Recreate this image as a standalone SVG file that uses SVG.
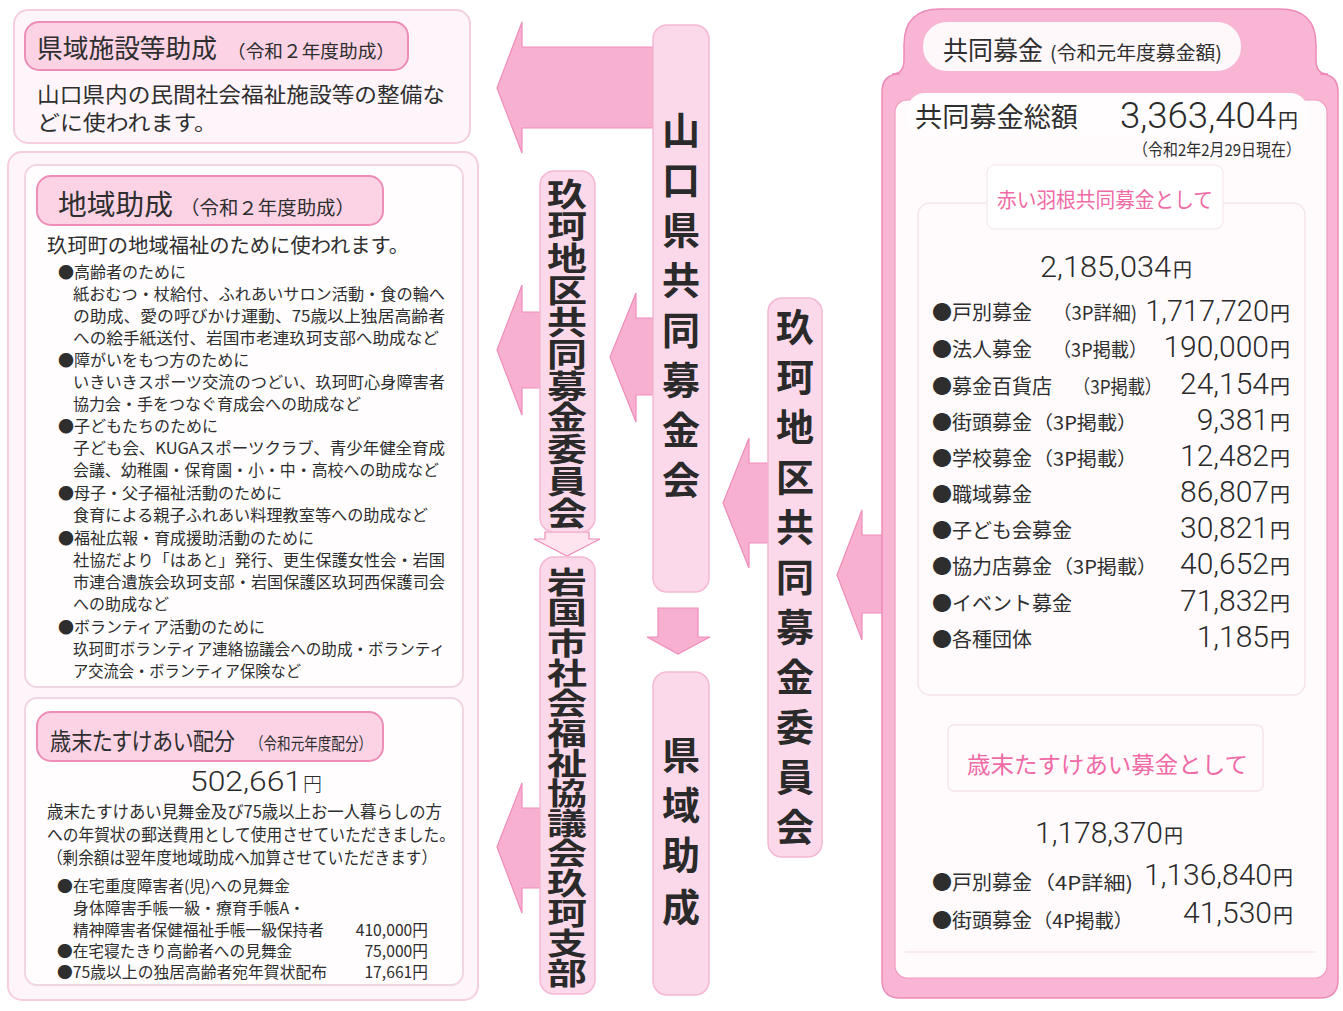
<svg xmlns="http://www.w3.org/2000/svg" width="1343" height="1011" viewBox="0 0 1343 1011">
<style>
.outer{fill:#fdf5f9;stroke:#f5cfe0;stroke-width:2}
.inner{fill:#fffdfe;stroke:#f2d5e2;stroke-width:2}
.tpill{fill:#fbd3e5;stroke:#ee8db7;stroke-width:2}
.vpill{fill:#fcd9ea;stroke:#f5b8d4;stroke-width:1.5}
.arrow{fill:#f8b0d1;stroke:#ef8cb9;stroke-width:1.2}
.arrowl{fill:#fde4ef;stroke:#f08dba;stroke-width:1.2}
.faint{fill:none;stroke:#f4e4ec;stroke-width:1.5}
.jp{font-family:"Noto Sans CJK JP",sans-serif;fill:#2e2e2e}
.palt{font-feature-settings:"palt"}
.num{font-family:Roboto,"Liberation Sans","Noto Sans CJK JP",sans-serif;font-weight:300;fill:#2a2a2a}
.vt{font-family:"Noto Sans CJK JP",sans-serif;font-weight:700;fill:#2a2a2a;text-anchor:middle}
.pink{fill:#f06aa6}
</style>

<g id="connectors">
  <polygon class="arrow" points="653,47 522,47 522,22 497,88 522,153 522,128 653,128"/>
  <polygon class="arrow" points="653,318 636,318 636,293 610,357 636,422 636,395 653,395"/>
  <polygon class="arrow" points="540,312 522,312 522,285 497,350 522,415 522,388 540,388"/>
  <polygon class="arrow" points="540,808 522,808 522,783 497,847 522,913 522,888 540,888"/>
  <polygon class="arrow" points="768,463 749,463 749,438 723,503 749,568 749,543 768,543"/>
  <polygon class="arrow" points="883,535 862,535 862,510 837,575 862,640 862,613 883,613"/>
  <polygon class="arrowl" points="545,532 589,532 589,539 600,539 567,556 534,539 545,539"/>
  <polygon class="arrow" points="658,608 698,608 698,637 710,637 678,654 647,637 658,637"/>
</g>

<g id="node-kenikishisetsu">
  <rect class="outer" x="14" y="10" width="456" height="133" rx="14"/>
  <rect class="tpill" x="25" y="22" width="383" height="48" rx="14"/>
  <text class="jp" x="37" y="58" font-size="26" textLength="180" lengthAdjust="spacingAndGlyphs">県域施設等助成</text>
  <text class="jp" x="227" y="58" font-size="18" textLength="168" lengthAdjust="spacingAndGlyphs">（令和２年度助成）</text>
  <text class="jp" x="37" y="102" font-size="21" textLength="408" lengthAdjust="spacingAndGlyphs">山口県内の民間社会福祉施設等の整備な</text>
  <text class="jp" x="37" y="130" font-size="21" textLength="180" lengthAdjust="spacingAndGlyphs">どに使われます。</text>
</g>

<g id="node-chiiki-frame">
  <rect class="outer" x="8" y="152" width="470" height="848" rx="14"/>
</g>

<g id="node-chiiki">
  <rect class="inner" x="25" y="165" width="438" height="522" rx="12"/>
  <rect class="tpill" x="37" y="176" width="346" height="49" rx="14"/>
  <text class="jp" x="58" y="215" font-size="28" textLength="115" lengthAdjust="spacingAndGlyphs">地域助成</text>
  <text class="jp" x="180" y="215" font-size="19" textLength="175" lengthAdjust="spacingAndGlyphs">（令和２年度助成）</text>
  <text class="jp" x="47" y="253" font-size="20.3">玖珂町の地域福祉のために使われます。</text>
  <g font-size="16">
    <text class="jp" x="58" y="278">●高齢者のために</text>
    <text class="jp" x="73" y="300" textLength="372" lengthAdjust="spacingAndGlyphs">紙おむつ・杖給付、ふれあいサロン活動・食の輪へ</text>
    <text class="jp" x="73" y="322" textLength="372" lengthAdjust="spacingAndGlyphs">の助成、愛の呼びかけ運動、75歳以上独居高齢者</text>
    <text class="jp" x="73" y="344" textLength="366" lengthAdjust="spacingAndGlyphs">への絵手紙送付、岩国市老連玖珂支部へ助成など</text>
    <text class="jp" x="58" y="366">●障がいをもつ方のために</text>
    <text class="jp" x="73" y="388" textLength="372" lengthAdjust="spacingAndGlyphs">いきいきスポーツ交流のつどい、玖珂町心身障害者</text>
    <text class="jp" x="73" y="410">協力会・手をつなぐ育成会への助成など</text>
    <text class="jp" x="58" y="432">●子どもたちのために</text>
    <text class="jp" x="73" y="454" textLength="372" lengthAdjust="spacingAndGlyphs">子ども会、KUGAスポーツクラブ、青少年健全育成</text>
    <text class="jp" x="73" y="476" textLength="366" lengthAdjust="spacingAndGlyphs">会議、幼稚園・保育園・小・中・高校への助成など</text>
    <text class="jp" x="58" y="499">●母子・父子福祉活動のために</text>
    <text class="jp" x="73" y="521" textLength="355" lengthAdjust="spacingAndGlyphs">食育による親子ふれあい料理教室等への助成など</text>
    <text class="jp" x="58" y="544">●福祉広報・育成援助活動のために</text>
    <text class="jp" x="73" y="566" textLength="372" lengthAdjust="spacingAndGlyphs">社協だより「はあと」発行、更生保護女性会・岩国</text>
    <text class="jp" x="73" y="588" textLength="372" lengthAdjust="spacingAndGlyphs">市連合遺族会玖珂支部・岩国保護区玖珂西保護司会</text>
    <text class="jp" x="73" y="610">への助成など</text>
    <text class="jp" x="58" y="633">●ボランティア活動のために</text>
    <text class="jp" x="73" y="655" textLength="372" lengthAdjust="spacingAndGlyphs">玖珂町ボランティア連絡協議会への助成・ボランティ</text>
    <text class="jp" x="73" y="677" textLength="228" lengthAdjust="spacingAndGlyphs">ア交流会・ボランティア保険など</text>
  </g>
</g>

<g id="node-saimatsu">
  <rect class="inner" x="25" y="698" width="438" height="287" rx="12"/>
  <rect class="tpill" x="37" y="712" width="346" height="49" rx="14"/>
  <text class="jp palt" x="50" y="750" font-size="24" textLength="185" lengthAdjust="spacingAndGlyphs">歳末たすけあい配分</text>
  <text class="jp" x="250" y="750" font-size="17" textLength="122" lengthAdjust="spacingAndGlyphs">（令和元年度配分）</text>
  <text class="num" x="190" y="791" font-size="27.5"><tspan textLength="112" lengthAdjust="spacingAndGlyphs">502,661</tspan><tspan x="303" font-size="19" font-family="Noto Sans CJK JP">円</tspan></text>
  <text class="jp" x="47" y="818" font-size="17.2" textLength="395" lengthAdjust="spacingAndGlyphs">歳末たすけあい見舞金及び75歳以上お一人暮らしの方</text>
  <text class="jp" x="47" y="841" font-size="17" textLength="408" lengthAdjust="spacingAndGlyphs">への年賀状の郵送費用として使用させていただきました。</text>
  <text class="jp" x="47" y="864" font-size="17" textLength="390" lengthAdjust="spacingAndGlyphs">（剰余額は翌年度地域助成へ加算させていただきます）</text>
  <g font-size="15.7">
    <text class="jp" x="57" y="892" textLength="233" lengthAdjust="spacingAndGlyphs">●在宅重度障害者(児)への見舞金</text>
    <text class="jp" x="73" y="914" textLength="232" lengthAdjust="spacingAndGlyphs">身体障害手帳一級・療育手帳A・</text>
    <text class="jp" x="73" y="936">精神障害者保健福祉手帳一級保持者</text>
    <text class="jp" x="57" y="957">●在宅寝たきり高齢者への見舞金</text>
    <text class="jp" x="57" y="978" textLength="270" lengthAdjust="spacingAndGlyphs">●75歳以上の独居高齢者宛年賀状配布</text>
    <text class="jp" x="428" y="936" text-anchor="end">410,000円</text>
    <text class="jp" x="428" y="957" text-anchor="end">75,000円</text>
    <text class="jp" x="428" y="978" text-anchor="end">17,661円</text>
  </g>
</g>

<g id="node-yamaguchi">
  <rect class="vpill" x="653" y="25" width="56" height="567" rx="14"/>
  <text class="vt" font-size="38" x="681 681 681 681 681 681 681 681" y="144 194 244 294 344 394 444 494">山口県共同募金会</text>
</g>

<g id="node-kuga-left">
  <rect class="vpill" x="540" y="171" width="55" height="361" rx="14"/>
  <text class="vt" font-size="40" transform="matrix(1,0,0,0.8,0,0)" x="567 567 567 567 567 567 567 567 567 567 567" y="257.7 297.6 337.5 377.3 417.2 457.1 497.0 536.8 576.7 616.6 656.5">玖珂地区共同募金委員会</text>
</g>

<g id="node-iwakuni">
  <rect class="vpill" x="540" y="557" width="55" height="437" rx="14"/>
  <text class="vt" font-size="40" transform="matrix(1,0,0,0.75,0,0)" x="567 567 567 567 567 567 567 567 567 567 567 567 567 567" y="791.2 831.3 871.4 911.5 951.6 991.7 1031.8 1071.9 1112 1152.1 1192.2 1232.3 1272.4 1312.5">岩国市社会福祉協議会玖珂支部</text>
</g>

<g id="node-keniki">
  <rect class="vpill" x="653" y="672" width="56" height="323" rx="14"/>
  <text class="vt" font-size="38" x="681 681 681 681" y="769 819 869 921">県域助成</text>
</g>

<g id="node-kuga-right">
  <rect class="vpill" x="768" y="298" width="54" height="559" rx="14"/>
  <text class="vt" font-size="38" x="795 795 795 795 795 795 795 795 795 795 795" y="341 391 441 491 541 591 641 691 741 791 841">玖珂地区共同募金委員会</text>
</g>

<g id="node-kyodo">
  <path d="M882 92 Q882 74 900 74 L892 74 Q904 74 904 60 L904 45 Q904 9 940 9 L1280 9 Q1316 9 1316 45 L1316 60 Q1316 74 1328 74 L1320 74 Q1338 74 1338 92 L1338 980 Q1338 998 1320 998 L900 998 Q882 998 882 980 Z" fill="#f8b6d4" stroke="#ee8ab7" stroke-width="1.5"/>
  <rect x="895" y="100" width="432" height="878" rx="12" fill="#fffbfd" stroke="#f09ac0" stroke-width="1.2"/>
  <rect x="923" y="22" width="318" height="49" rx="24" fill="#fff8fb"/>
  <text class="jp" x="943" y="60" font-size="26" textLength="100" lengthAdjust="spacingAndGlyphs">共同募金</text>
  <text class="jp" x="1050" y="60" font-size="19" textLength="172" lengthAdjust="spacingAndGlyphs">(令和元年度募金額)</text>
  <rect x="907" y="93" width="401" height="44" rx="18" fill="#fffdfe"/>
  <text class="jp" x="915" y="127" font-size="27" textLength="163" lengthAdjust="spacingAndGlyphs">共同募金総額</text>
  <text class="num" x="1276" y="128" font-size="36" text-anchor="end" textLength="156" lengthAdjust="spacingAndGlyphs">3,363,404</text>
  <text class="jp" x="1278" y="128" font-size="20">円</text>
  <text class="jp" x="1133" y="156" font-size="16.5" textLength="168" lengthAdjust="spacingAndGlyphs">（令和2年2月29日現在）</text>

  <rect class="faint" x="918" y="203" width="387" height="492" rx="12" fill="#fffdfe"/>
  <rect x="987" y="165" width="236" height="64" rx="8" fill="#ffffff" stroke="#f7ecf1" stroke-width="1.5"/>
  <text class="jp pink" x="997" y="207" font-size="21" textLength="216" lengthAdjust="spacingAndGlyphs">赤い羽根共同募金として</text>
  <text class="num" x="1040" y="277" font-size="29" textLength="131" lengthAdjust="spacingAndGlyphs">2,185,034</text>
  <text class="jp" x="1173" y="277" font-size="19">円</text>

  <g font-size="20">
    <text class="jp" x="932" y="320">●戸別募金<tspan x="1053" font-size="19" textLength="84" lengthAdjust="spacingAndGlyphs">（3P詳細)</tspan></text>
    <text class="jp" x="932" y="357">●法人募金<tspan x="1053" font-size="19" textLength="94" lengthAdjust="spacingAndGlyphs">（3P掲載）</tspan></text>
    <text class="jp" x="932" y="394">●募金百貨店<tspan x="1073" font-size="19" textLength="89" lengthAdjust="spacingAndGlyphs">（3P掲載）</tspan></text>
    <text class="jp" x="932" y="430">●街頭募金<tspan x="1033" font-size="19" textLength="104" lengthAdjust="spacingAndGlyphs">（3P掲載）</tspan></text>
    <text class="jp" x="932" y="466">●学校募金<tspan x="1033" font-size="19" textLength="104" lengthAdjust="spacingAndGlyphs">（3P掲載）</tspan></text>
    <text class="jp" x="932" y="502">●職域募金</text>
    <text class="jp" x="932" y="538">●子ども会募金</text>
    <text class="jp" x="932" y="574">●協力店募金<tspan x="1053" font-size="19" textLength="104" lengthAdjust="spacingAndGlyphs">（3P掲載）</tspan></text>
    <text class="jp" x="932" y="611">●イベント募金</text>
    <text class="jp" x="932" y="647">●各種団体</text>
  </g>
  <g font-size="30" text-anchor="end">
    <text class="num" x="1269" y="321" font-size="29">1,717,720</text>
    <text class="num" x="1269" y="357">190,000</text>
    <text class="num" x="1269" y="394">24,154</text>
    <text class="num" x="1269" y="430">9,381</text>
    <text class="num" x="1269" y="466">12,482</text>
    <text class="num" x="1269" y="502">86,807</text>
    <text class="num" x="1269" y="538">30,821</text>
    <text class="num" x="1269" y="574">40,652</text>
    <text class="num" x="1269" y="611">71,832</text>
    <text class="num" x="1269" y="647">1,185</text>
  </g>
  <g font-size="20">
    <text class="jp" x="1270" y="321">円</text>
    <text class="jp" x="1270" y="357">円</text>
    <text class="jp" x="1270" y="394">円</text>
    <text class="jp" x="1270" y="430">円</text>
    <text class="jp" x="1270" y="466">円</text>
    <text class="jp" x="1270" y="502">円</text>
    <text class="jp" x="1270" y="538">円</text>
    <text class="jp" x="1270" y="574">円</text>
    <text class="jp" x="1270" y="611">円</text>
    <text class="jp" x="1270" y="647">円</text>
  </g>

  <rect class="faint" x="948" y="725" width="315" height="66" rx="6" fill="#fffdfe"/>
  <text class="jp pink" x="967" y="773" font-size="23" textLength="281" lengthAdjust="spacingAndGlyphs">歳末たすけあい募金として</text>
  <line class="faint" x1="905" y1="952" x2="1315" y2="952"/>
  <text class="num" x="1035" y="843" font-size="29" textLength="128" lengthAdjust="spacingAndGlyphs">1,178,370</text>
  <text class="jp" x="1164" y="843" font-size="19">円</text>
  <text class="jp" x="932" y="890" font-size="20">●戸別募金<tspan x="1033" font-size="19" textLength="100" lengthAdjust="spacingAndGlyphs">（4P詳細)</tspan></text>
  <text class="jp" x="932" y="928" font-size="20">●街頭募金<tspan x="1033" font-size="19" textLength="100" lengthAdjust="spacingAndGlyphs">（4P掲載）</tspan></text>
  <text class="num" x="1272" y="885" font-size="30" text-anchor="end">1,136,840</text>
  <text class="jp" x="1273" y="885" font-size="20">円</text>
  <text class="num" x="1272" y="923" font-size="30" text-anchor="end">41,530</text>
  <text class="jp" x="1273" y="923" font-size="20">円</text>
</g>
</svg>
